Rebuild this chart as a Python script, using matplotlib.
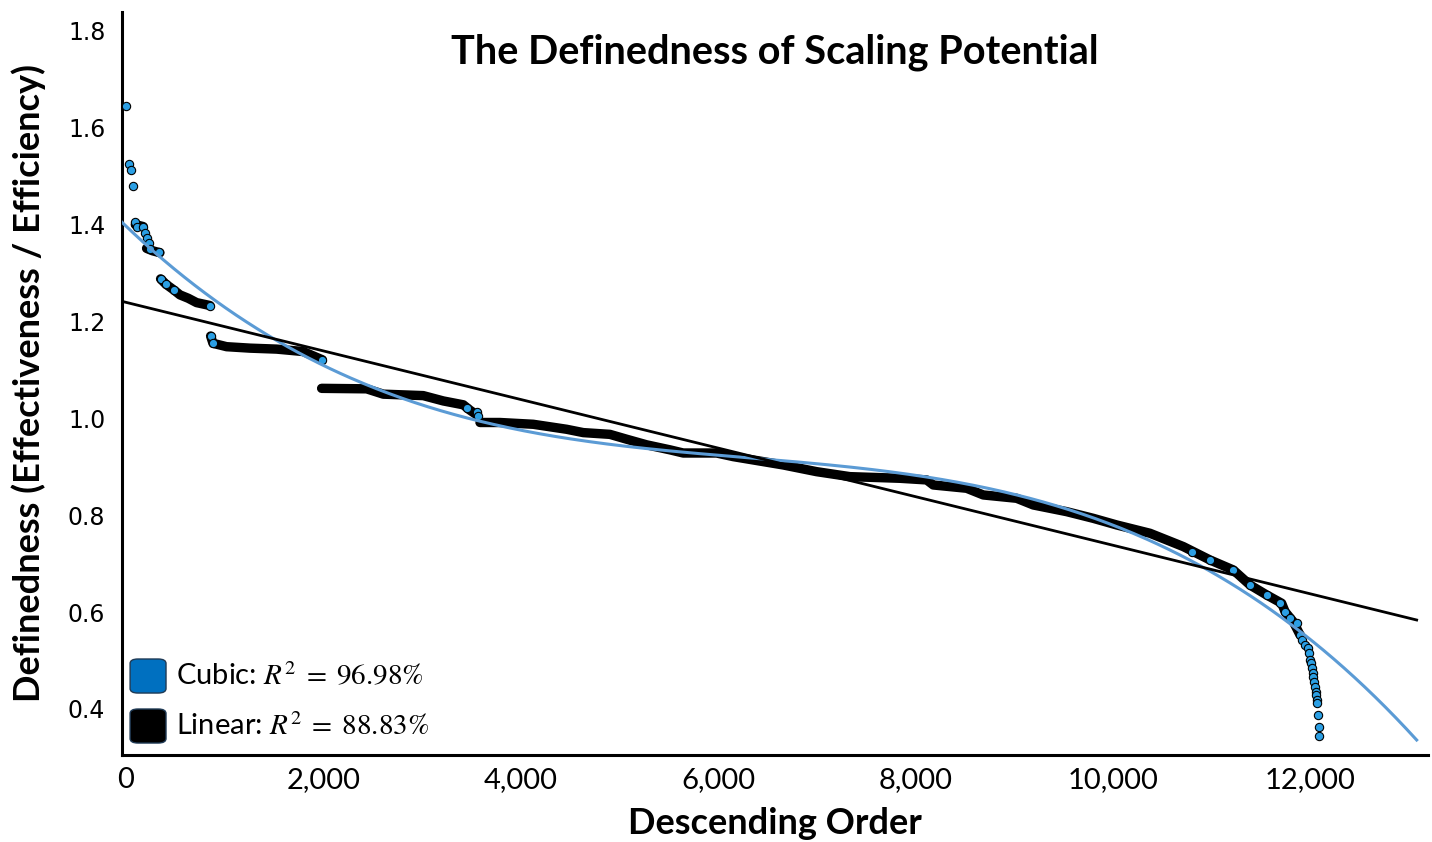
import numpy as np
import matplotlib
matplotlib.use('Agg')
import matplotlib.pyplot as plt
from matplotlib.patches import FancyBboxPatch
from matplotlib.ticker import FuncFormatter

plt.rcParams['font.family'] = ['Lato', 'DejaVu Sans']
plt.rcParams['mathtext.fontset'] = 'stix'

# single points that stand apart from the dense runs
dot_rank = [0, 30, 48, 68, 91, 108, 176, 193, 216, 236, 243, 338,
            351, 405, 486, 851, 858, 882, 1990,
            3452, 3557, 3573,
            10800, 10986, 11223, 11392, 11561, 11696, 11747, 11797, 11865,
            11899, 11919, 11949, 11983, 11993, 12000, 12010, 12017, 12027,
            12034, 12044, 12051, 12058, 12061, 12068, 12074, 12085, 12087, 12089]
dot_value = [1.644, 1.525, 1.513, 1.479, 1.406, 1.396, 1.395, 1.383, 1.372, 1.362, 1.349, 1.343,
             1.288, 1.277, 1.265, 1.233, 1.170, 1.155, 1.121,
             1.021, 1.014, 1.004,
             0.725, 0.708, 0.687, 0.656, 0.635, 0.618, 0.601, 0.588, 0.577,
             0.553, 0.543, 0.532, 0.525, 0.515, 0.501, 0.494, 0.484, 0.474,
             0.467, 0.456, 0.446, 0.436, 0.429, 0.419, 0.412, 0.388, 0.363, 0.344]

# dense runs: thousands of overlapping markers that merge into a black band
run1_rank = [95, 175]
run1_value = [1.400, 1.396]
run2_rank = [209, 270, 344]
run2_value = [1.351, 1.346, 1.342]
run3_rank = [351, 405, 486, 547, 631, 716, 851]
run3_value = [1.288, 1.277, 1.265, 1.255, 1.248, 1.239, 1.233]
run4_rank = [858, 882, 1020, 1257, 1527, 1795, 1990]
run4_value = [1.170, 1.155, 1.148, 1.145, 1.143, 1.138, 1.121]
run5_rank = [1983, 2439, 2608, 3013, 3216, 3419, 3486, 3557]
run5_value = [1.062, 1.061, 1.050, 1.047, 1.036, 1.028, 1.017, 1.007]
run6_rank = [3588, 3790, 4128, 4466, 4635, 4905, 5074, 5277, 5514, 5648, 5986,
             6155, 6662, 6999, 7337, 7845, 8115, 8182, 8520, 8689, 9027, 9196,
             9534, 9804, 10040, 10378, 10716, 10986, 11223, 11392, 11561, 11713,
             11747, 11831, 11899]
run6_value = [0.9915, 0.9915, 0.9878, 0.9775, 0.9706, 0.967, 0.957, 0.9454, 0.935, 0.9285, 0.9285,
              0.921, 0.9038, 0.890, 0.8797, 0.8763, 0.8729, 0.8625, 0.8557, 0.8419, 0.835, 0.8212,
              0.8074, 0.7936, 0.780, 0.7628, 0.7353, 0.7077, 0.687, 0.656, 0.6354, 0.6183,
              0.601, 0.580, 0.553]

# trend lines, x in thousands of ranks
cubic_coef = [-0.0014936, 0.02818, -0.19416, 1.397]
linear_coef = [-0.05014, 1.2396]
cubic_r2 = 96.98
linear_r2 = 88.83

fig = plt.figure(figsize=(14.32, 8.42), dpi=100)
ax = fig.add_axes([122 / 1432, 1 - 755 / 842, 1306 / 1432, 743 / 842])

dot_pt = 8.3 * 72 / 100  # marker diameter in points
for r, v in [(run1_rank, run1_value), (run2_rank, run2_value), (run3_rank, run3_value),
             (run4_rank, run4_value), (run5_rank, run5_value), (run6_rank, run6_value)]:
    ax.plot(r, v, color='black', lw=dot_pt + 0.8, solid_capstyle='round',
            solid_joinstyle='round', zorder=2)
ax.scatter(dot_rank, dot_value, s=dot_pt ** 2, c='#2b9fe4', edgecolors='black',
           linewidths=0.8, zorder=3)

xs = np.linspace(-40, 13081, 500)
ax.plot(xs, np.polyval(cubic_coef, xs / 1000), color='#5b9bd5', lw=2.2, zorder=4)
ax.plot(xs, np.polyval(linear_coef, xs / 1000), color='black', lw=2.0, zorder=4)

ax.set_xlim(-40, 13196)
ax.set_ylim(0.305, 1.839)

for s in ['top', 'right']:
    ax.spines[s].set_visible(False)
for s in ['left', 'bottom']:
    ax.spines[s].set_linewidth(2.2)

ax.set_xticks(range(0, 12001, 2000))
ax.set_yticks([0.4, 0.6, 0.8, 1.0, 1.2, 1.4, 1.6, 1.8])
ax.xaxis.set_major_formatter(FuncFormatter(lambda v, p: f'{int(v):,}'))
ax.yaxis.set_major_formatter(FuncFormatter(lambda v, p: f'{v:.1f}'))
ax.tick_params(axis='both', length=0)
ax.tick_params(axis='x', pad=9)
ax.tick_params(axis='y', pad=12)
for lab in ax.get_xticklabels():
    lab.set_fontsize(21)
for lab in ax.get_yticklabels():
    lab.set_family('DejaVu Sans')
    lab.set_fontsize(17)

ax.text(0.5, 0.946, 'The Definedness of Scaling Potential', transform=ax.transAxes,
        ha='center', va='center', fontsize=28.5, fontweight='bold')
ax.set_xlabel('Descending Order', fontsize=26, fontweight='bold')
ax.xaxis.set_label_coords(0.5, -0.07)
ax.set_ylabel('Definedness (Effectiveness / Efficiency)', fontsize=26, fontweight='bold')
ax.yaxis.set_label_coords(-0.058, 0.5)

# hand-built key with rounded swatches
keys = [('#0070c0', 'Cubic:', cubic_r2, 0.0794), ('black', 'Linear:', linear_r2, 0.0121)]
for col, name, r2, y0 in keys:
    ax.add_patch(FancyBboxPatch((0.0062, y0 + 0.004), 0.0275, 0.0458,
                                boxstyle='round,pad=0,rounding_size=0.006',
                                transform=ax.transAxes, facecolor=col,
                                edgecolor='#1f3a55', lw=1, clip_on=False, zorder=5))
    ax.text(0.0413, y0 + 0.027, f'{name} $R^2\\;=\\;{r2:.2f}\\%$', transform=ax.transAxes,
            ha='left', va='center', fontsize=21, zorder=5)

fig.savefig('out.png', dpi=100)
